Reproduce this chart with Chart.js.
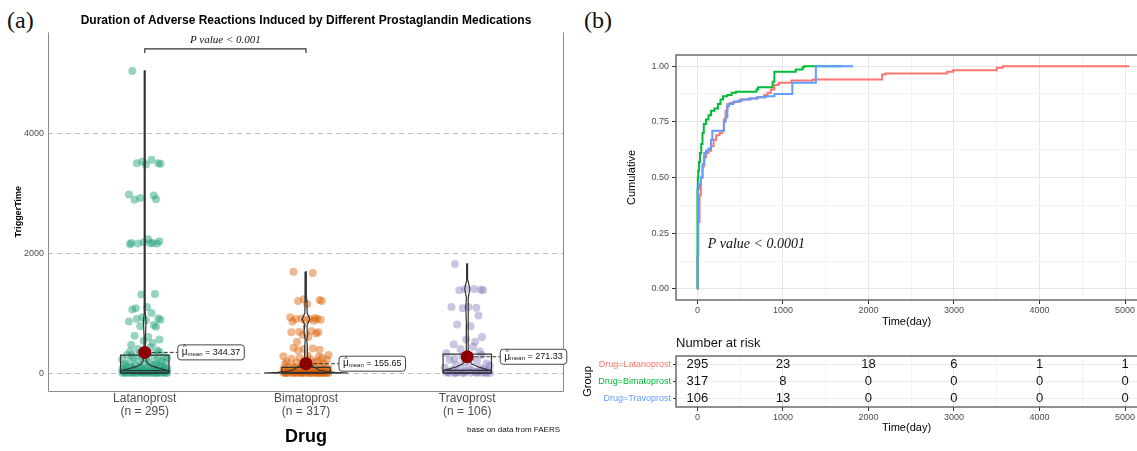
<!DOCTYPE html>
<html>
<head>
<meta charset="utf-8">
<script src="https://cdn.jsdelivr.net/npm/chart.js@4.4.0/dist/chart.umd.min.js"></script>
<style>
body{margin:0;background:#fff;width:1137px;height:451px;overflow:hidden;position:relative}
canvas{position:absolute}
.tag{position:absolute;font-family:"Liberation Serif","Times New Roman",serif;font-size:24px;color:#111;line-height:28px}
</style>
</head>
<body>
<div class="tag" style="left:7px;top:6px">(a)</div>
<div class="tag" style="left:584px;top:6px">(b)</div>
<canvas id="violin" width="580" height="451" style="left:0;top:0"></canvas>
<canvas id="km" width="557" height="335" style="left:580px;top:0"></canvas>
<canvas id="risk" width="557" height="121" style="left:580px;top:330px"></canvas>
<script>
/* ---------- (a) duration by drug ---------- */
const drugs=['Latanoprost','Bimatoprost','Travoprost'];
const nObs=[295,317,106];
const meanVals=[344.37,155.65,271.33];
const q1Vals=[3,2,3];
const medVals=[40,12,45];
const q3Vals=[300,95,315];
const yTicksA=[0,2000,4000];

const ptsLat=[5040,3560,3530,3500,3500,3490,3480,2980,2960,2920,2900,2890,2230,2200,2180,2170,2170,2165,2160,2160,2150,
  1320,1310,1100,1080,1060,1000,930,910,900,890,880,860,800,780,770,620,600,560,540,500,470,430,400,380,360,350,340,320,
  300,300,290,280,270,260,250,240,230,220,210,200,190,180,170,160,150,150,140,130,120,120,110,100,100,95,90,90,85,80,75,
  70,65,60,60,55,50,45,40,40,35,30,30,28,25,20,20,18,15,14,12,10,10,8,7,6,5,5,4,3,3,2,2,1,1,1,0,0,0,0];
const ptsBim=[1690,1670,1230,1220,1200,1200,1150,930,920,910,900,900,900,890,880,870,860,700,690,680,680,660,640,600,520,
  420,410,400,390,380,300,290,280,270,260,250,240,230,220,210,200,190,180,170,160,150,140,130,120,110,100,95,90,85,80,75,
  70,65,60,55,50,45,40,35,30,28,25,22,20,18,16,15,14,12,10,10,9,8,7,6,5,5,4,4,3,3,2,2,2,1,1,1,1,0,0,0,0,0,0];
const ptsTra=[1820,1400,1400,1390,1380,1380,1100,1100,1090,1080,960,810,780,600,560,520,480,440,400,360,330,300,280,260,
  240,220,200,180,160,140,120,100,90,80,70,60,50,45,40,30,25,20,15,12,10,8,6,5,4,3,2,1,1,0,0,0];

// violin outline: [value, half width in category units]
const violinLat=[[-10,0],[0,0.15],[25,0.15],[50,0.13],[80,0.09],[110,0.05],[150,0.022],[200,0.01],[300,0.005],[600,0.004],
  [850,0.008],[1000,0.004],[2170,0.003],[3500,0.003],[5040,0.002]];
const violinBim=[[-5,0],[0,0.26],[10,0.18],[25,0.12],[50,0.08],[100,0.05],[150,0.028],[200,0.015],[260,0.008],[400,0.009],
  [550,0.005],[680,0.012],[800,0.007],[900,0.024],[1000,0.007],[1200,0.006],[1690,0.002]];
const violinTra=[[-5,0],[0,0.15],[30,0.15],[60,0.12],[100,0.07],[150,0.03],[200,0.014],[300,0.007],[500,0.005],[800,0.005],
  [1100,0.009],[1250,0.005],[1400,0.016],[1550,0.004],[1820,0.002]];

const jitter=[-0.11,0.06,-0.02,0.12,-0.07,0.14,0.01,-0.14,0.08,-0.04,0.1,-0.09,0.03,0.13,-0.01,0.07,-0.12,0.05,-0.06,0.11,-0.13,0.09,-0.03,0.02,-0.08];
const dark2a=['rgba(27,158,119,0.45)','rgba(217,95,2,0.45)','rgba(117,112,179,0.4)'];

/* ---------- (b) cumulative incidence ---------- */
const kmTimeLat=[0,3,10,25,40,60,80,100,130,160,190,220,260,290,310,330,350,380,430,500,600,700,780,820,860,900,950,1100,1350,2160,2200,2920,2990,3500,3570,5050];
const kmCumLat=[0,0.15,0.30,0.42,0.50,0.55,0.59,0.61,0.62,0.64,0.67,0.69,0.70,0.71,0.76,0.80,0.83,0.835,0.84,0.85,0.855,0.86,0.87,0.88,0.895,0.915,0.925,0.935,0.94,0.962,0.967,0.975,0.982,0.993,1.0,1.0];
const kmTimeBim=[0,1,5,10,20,30,45,60,75,100,130,160,200,240,270,300,350,400,450,690,710,880,900,1150,1230,1250,1690];
const kmCumBim=[0,0.45,0.50,0.53,0.57,0.61,0.65,0.70,0.74,0.76,0.78,0.80,0.81,0.83,0.85,0.865,0.87,0.88,0.885,0.895,0.905,0.93,0.975,0.985,0.995,1.0,1.0];
const kmTimeTra=[0,3,8,20,40,60,80,100,130,160,175,310,330,350,370,420,470,520,620,700,800,900,1110,1385,1820];
const kmCumTra=[0,0.15,0.45,0.47,0.50,0.56,0.61,0.62,0.63,0.67,0.71,0.75,0.77,0.82,0.83,0.84,0.845,0.85,0.855,0.86,0.865,0.875,0.925,1.0,1.0];
const kmColors=['#F8766D','#00BA38','#619CFF'];
const groupLabels=['Drug=Latanoprost','Drug=Bimatoprost','Drug=Travoprost'];
const timeTicks=[0,500,1000,1500,2000,2500,3000,3500,4000,4500,5000];
const cumTicks=[0,0.125,0.25,0.375,0.5,0.625,0.75,0.875,1];
const riskTimes=[0,1000,2000,3000,4000,5000];
const riskLat=[295,23,18,6,1,1];
const riskBim=[317,8,0,0,0,0];
const riskTra=[106,13,0,0,0,0];

Chart.defaults.font.family='Arial,"Liberation Sans",sans-serif';
Chart.defaults.animation=false;
Chart.defaults.plugins.legend.display=false;
Chart.defaults.plugins.tooltip.enabled=false;

/* ----- build (a) ----- */
const groups=[ptsLat,ptsBim,ptsTra];
const violins=[violinLat,violinBim,violinTra];
const boxHalf=0.15;
const dsA=[];
dsA.push({data:meanVals.map((m,i)=>({x:i+1,y:m})),pointRadius:6.5,pointBackgroundColor:'#8B0000',pointBorderWidth:0});
q1Vals.forEach((q1,i)=>{
  const c=i+1;
  dsA.push({showLine:true,pointRadius:0,borderColor:'#333',borderWidth:1.2,
    data:[{x:c-boxHalf,y:q1},{x:c+boxHalf,y:q1},{x:c+boxHalf,y:q3Vals[i]},{x:c-boxHalf,y:q3Vals[i]},{x:c-boxHalf,y:q1},
      {x:c,y:null},{x:c-boxHalf,y:medVals[i]},{x:c+boxHalf,y:medVals[i]}]});
});
violins.forEach((v,i)=>{
  const c=i+1;
  const right=v.map(p=>({x:c+p[1],y:p[0]}));
  const left=v.slice().reverse().map(p=>({x:c-p[1],y:p[0]}));
  dsA.push({showLine:true,pointRadius:0,borderColor:'#333',borderWidth:1.2,data:right.concat(left)});
});
groups.forEach((g,i)=>{
  dsA.push({data:g.map((v,k)=>({x:i+1+jitter[k%jitter.length]*(v>350?0.7:1),y:v})),pointRadius:4,
    pointBackgroundColor:dark2a[i],pointBorderWidth:0});
});

const decoA={id:'decoA',afterDatasetsDraw(c){
  const {ctx,scales:{x,y},chartArea:a}=c;
  ctx.save();
  ctx.strokeStyle='#8c8c8c';ctx.lineWidth=1;
  ctx.beginPath();
  ctx.moveTo(a.left+0.5,a.top);ctx.lineTo(a.left+0.5,a.bottom+0.5);
  ctx.lineTo(a.right-0.5,a.bottom+0.5);ctx.lineTo(a.right-0.5,a.top);
  ctx.stroke();
  // significance bracket
  const x1=x.getPixelForValue(1),x2=x.getPixelForValue(2),by=a.top+16.5;
  ctx.strokeStyle='#333';ctx.lineWidth=1.2;
  ctx.beginPath();ctx.moveTo(x1,by+4);ctx.lineTo(x1,by);ctx.lineTo(x2,by);ctx.lineTo(x2,by+4);ctx.stroke();
  ctx.fillStyle='#111';ctx.font='italic 11px "Liberation Serif","Times New Roman",serif';
  ctx.textAlign='center';ctx.textBaseline='middle';
  ctx.fillText('P value < 0.001',(x1+x2)/2,by-9);
  // mean labels
  meanVals.forEach((m,i)=>{
    const px=x.getPixelForValue(i+1),py=y.getPixelForValue(m);
    const bx=px+33,bh=15;
    const tail=' = '+m.toFixed(2);
    ctx.font='10px Arial,"Liberation Sans",sans-serif';
    const mw=ctx.measureText('\u03BC').width;
    ctx.font='6px Arial,"Liberation Sans",sans-serif';
    const sw=ctx.measureText('mean').width;
    ctx.font='9px Arial,"Liberation Sans",sans-serif';
    const tw=ctx.measureText(tail).width;
    const bw=mw+sw+tw+8;
    ctx.setLineDash([4,2]);ctx.strokeStyle='#333';ctx.lineWidth=1;
    ctx.beginPath();ctx.moveTo(px+7,py);ctx.lineTo(bx,py);ctx.stroke();
    ctx.setLineDash([]);
    ctx.fillStyle='#fff';ctx.strokeStyle='#444';
    ctx.beginPath();ctx.roundRect(bx,py-bh/2,bw,bh,3);ctx.fill();ctx.stroke();
    ctx.fillStyle='#111';ctx.textAlign='left';ctx.textBaseline='middle';
    let tx=bx+4;
    ctx.font='10px Arial,"Liberation Sans",sans-serif';
    ctx.fillText('\u03BC',tx,py);
    ctx.font='7px Arial,"Liberation Sans",sans-serif';
    ctx.textAlign='center';ctx.fillText('^',tx+mw/2,py-5);ctx.textAlign='left';
    tx+=mw;
    ctx.font='6px Arial,"Liberation Sans",sans-serif';
    ctx.fillText('mean',tx,py+2);tx+=sw;
    ctx.font='9px Arial,"Liberation Sans",sans-serif';
    ctx.fillText(tail,tx,py);
  });
  ctx.fillStyle='#111';ctx.font='8px Arial,"Liberation Sans",sans-serif';
  ctx.textAlign='right';ctx.textBaseline='middle';
  ctx.fillText('base on data from FAERS',a.right-4,430);
  ctx.restore();
}};

new Chart(document.getElementById('violin'),{
  type:'scatter',
  data:{datasets:dsA},
  options:{responsive:false,devicePixelRatio:1,
    layout:{padding:{left:0,right:16,top:0,bottom:0}},
    plugins:{title:{display:true,fullSize:false,text:'Duration of Adverse Reactions Induced by Different Prostaglandin Medications',
      font:{size:12,weight:'bold'},color:'#000',padding:{top:13,bottom:5}}},
    scales:{
      x:{type:'linear',min:0.4,max:3.6,
        afterBuildTicks:s=>{s.ticks=[1,2,3].map(v=>({value:v}));},
        afterFit:s=>{s.height=60;},
        grid:{display:false,drawTicks:false},border:{display:false},
        ticks:{padding:1,color:'#4d4d4d',font:{size:12,lineHeight:1.1},
          callback:v=>[drugs[Math.round(v)-1],'(n = '+nObs[Math.round(v)-1]+')']},
        title:{display:true,text:'Drug',color:'#000',font:{size:18,weight:'bold'},padding:{top:0,bottom:3}}},
      y:{type:'linear',min:-300,max:5683,
        afterBuildTicks:s=>{s.ticks=yTicksA.map(v=>({value:v}));},
        afterFit:s=>{s.width=48;},
        grid:{color:'#bdbdbd',drawTicks:false},border:{display:false,dash:[5,4]},
        ticks:{padding:4,color:'#4d4d4d',font:{size:9},callback:v=>String(v)},
        title:{display:true,text:'TriggerTime',color:'#000',font:{size:9,weight:'bold'},padding:{top:13,bottom:0}}}
    }},
  plugins:[decoA]
});

/* ----- build (b) KM ----- */
const kmSets=[[kmTimeLat,kmCumLat],[kmTimeBim,kmCumBim],[kmTimeTra,kmCumTra]];
const dsB=kmSets.map((s,i)=>({showLine:true,stepped:true,pointRadius:0,borderColor:kmColors[i],borderWidth:2,
  data:s[0].map((t,k)=>({x:t,y:s[1][k]}))})).reverse();

const isMajorT=v=>v%1000===0;
const isMajorC=v=>Math.abs(v*4-Math.round(v*4))<1e-6;
function timeAxis(height,titlePad){
  return {type:'linear',min:-250,max:5140,
    afterBuildTicks:s=>{s.ticks=timeTicks.map(v=>({value:v}));},
    afterFit:s=>{s.height=height;},
    grid:{color:c=>isMajorT(c.tick.value)?'#e6e6e6':'#f3f3f3',tickColor:c=>isMajorT(c.tick.value)?'#333':'rgba(0,0,0,0)',tickLength:4},
    border:{display:false},
    ticks:{padding:1,color:'#4d4d4d',font:{size:9},maxRotation:0,autoSkip:false,callback:v=>isMajorT(v)?String(v):''},
    title:{display:true,text:'Time(day)',color:'#000',font:{size:11},padding:{top:0,bottom:titlePad}}};
}
const frame={id:'frame',afterDatasetsDraw(c){
  const {ctx,chartArea:a}=c;
  ctx.save();ctx.strokeStyle='#555';ctx.lineWidth=1.3;
  ctx.strokeRect(a.left,a.top,a.right-a.left+10,a.bottom-a.top);
  ctx.restore();
}};
const pText={id:'pText',afterDatasetsDraw(c){
  const {ctx,scales:{x,y}}=c;
  ctx.save();ctx.fillStyle='#111';ctx.font='italic 14px "Liberation Serif","Times New Roman",serif';
  ctx.textAlign='left';ctx.textBaseline='middle';
  ctx.fillText('P value < 0.0001',x.getPixelForValue(120),y.getPixelForValue(0.2));
  ctx.restore();
}};

new Chart(document.getElementById('km'),{
  type:'scatter',
  data:{datasets:dsB},
  options:{responsive:false,devicePixelRatio:1,
    layout:{padding:{left:0,right:0,top:55,bottom:0}},
    scales:{
      x:timeAxis(35,6.4),
      y:{type:'linear',min:-0.05,max:1.05,
        afterBuildTicks:s=>{s.ticks=cumTicks.map(v=>({value:v}));},
        afterFit:s=>{s.width=96;},
        grid:{color:c=>isMajorC(c.tick.value)?'#e6e6e6':'#f3f3f3',tickColor:c=>isMajorC(c.tick.value)?'#333':'rgba(0,0,0,0)',tickLength:4},
        border:{display:false},
        ticks:{padding:3,color:'#4d4d4d',font:{size:9},autoSkip:false,callback:v=>isMajorC(v)?v.toFixed(2):''},
        title:{display:true,text:'Cumulative',color:'#000',font:{size:11},padding:{top:45,bottom:0}}}
    }},
  plugins:[frame,pText]
});

/* ----- risk table ----- */
const riskSets=[riskLat,riskBim,riskTra];
const riskText={id:'riskText',afterDatasetsDraw(c){
  const {ctx,scales:{x,y},chartArea:a}=c;
  ctx.save();ctx.fillStyle='#111';ctx.textBaseline='middle';
  ctx.font='13px Arial,"Liberation Sans",sans-serif';ctx.textAlign='left';
  ctx.fillText('Number at risk',a.left,13);
  ctx.textAlign='center';
  riskSets.forEach((r,g)=>r.forEach((n,k)=>ctx.fillText(String(n),x.getPixelForValue(riskTimes[k]),y.getPixelForValue(g))));
  ctx.restore();
}};
new Chart(document.getElementById('risk'),{
  type:'scatter',
  data:{labels:groupLabels,datasets:riskSets.map((r,g)=>({pointRadius:0,data:r.map((n,k)=>({x:riskTimes[k],y:groupLabels[g]}))}))},
  options:{responsive:false,devicePixelRatio:1,
    layout:{padding:{left:0,right:0,top:26,bottom:0}},
    scales:{
      x:timeAxis(44,16.4),
      y:{type:'category',labels:groupLabels,offset:true,
        afterFit:s=>{s.width=96;},
        grid:{offset:false,color:'#ececec',tickColor:'#333',tickLength:3},
        border:{display:false},
        ticks:{padding:2,font:{size:9},color:c=>kmColors[c.index]},
        title:{display:true,text:'Group',color:'#000',font:{size:11},padding:{top:1.4,bottom:0}}}
    }},
  plugins:[frame,riskText]
});
</script>
</body>
</html>
